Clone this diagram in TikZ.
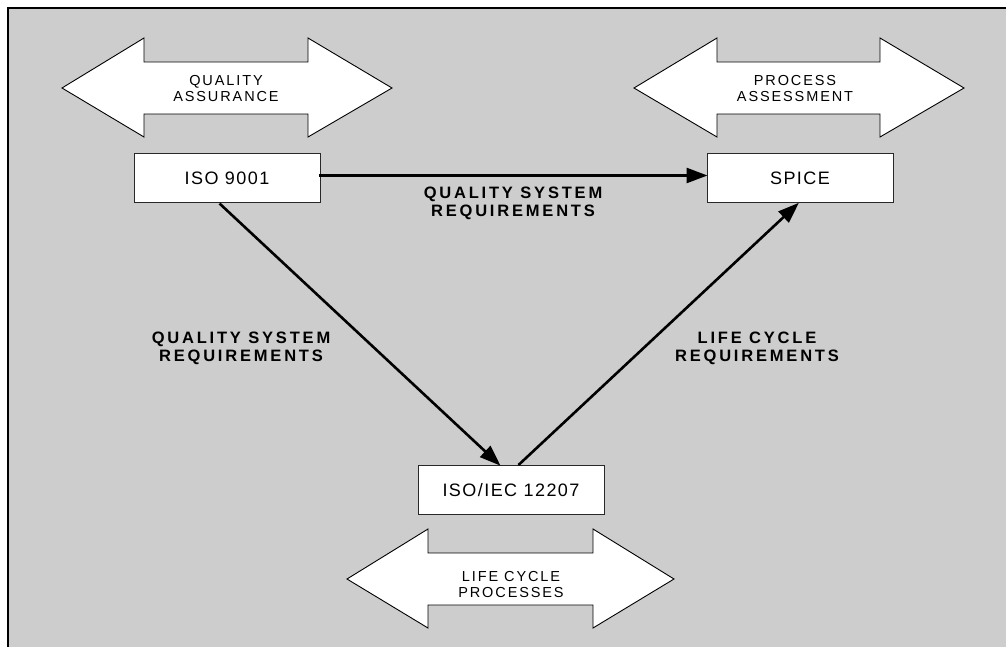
\documentclass[tikz,border=0pt]{standalone}
\usepackage{fontspec}
\setmainfont{Liberation Sans}
\newfontfamily\lblfont[LetterSpace=13]{Liberation Sans}
\newfontfamily\boxfont[LetterSpace=8]{Liberation Sans}
\newfontfamily\reqfont[LetterSpace=17]{Liberation Sans}
\usetikzlibrary{arrows.meta,calc}
\definecolor{bggray}{RGB}{205,205,205}
\definecolor{boxline}{RGB}{40,40,40}
\newcommand\dblarr[5]{%
  \draw[dblarrow] (#1,#5) -- (#2,#5-50) -- (#2,#5-26) -- (#3,#5-26) -- (#3,#5-50) -- (#4,#5)
    -- (#3,#5+49) -- (#3,#5+26) -- (#2,#5+26) -- (#2,#5+49) -- cycle;}
\tikzset{
  dblarrow/.style={draw=black, line width=0.9pt, fill=white, line join=miter},
  stdbox/.style={draw=boxline, line width=1pt, fill=white, minimum width=186pt, minimum height=49pt, inner sep=0pt, font=\boxfont\fontsize{18}{20}\selectfont},
  arrlabel/.style={align=center, inner sep=0pt, font=\lblfont\fontsize{14.5}{16}\selectfont},
  reqlabel/.style={align=center, inner sep=0pt, font=\reqfont\bfseries\fontsize{16.5}{18.5}\selectfont},
  conn/.style={line width=2.6pt, -{Triangle[length=21pt,width=15pt]}, shorten >=-1pt}
}
\begin{document}
\begin{tikzpicture}[x=1pt,y=-1pt]
\useasboundingbox (0,0) rectangle (1006,647);
\fill[bggray] (8,8) rectangle (1006,647);
\draw[line width=1.6pt] (8,647) -- (8,8) -- (1006,8);

% double arrows
\dblarr{62}{144}{308}{392}{88}
\node[arrlabel] (qa) at (226,88.5) {QUALITY\\ASSURANCE};
\dblarr{634}{717}{880}{964}{88}
\node[arrlabel] (pa) at (795,88.5) {PROCESS\\ASSESSMENT};
\dblarr{347}{428}{593}{674}{579}
\node[arrlabel] (lcp) at (511,584.5) {LIFE CYCLE\\PROCESSES};

% boxes
\node[stdbox] (iso) at (227,178.5) {ISO 9001};
\node[stdbox] (spice) at (800,178.5) {SPICE};
\node[stdbox] (iec) at (511,490) {ISO/IEC 12207};

% connectors
\coordinate (isoR) at ($(iso.east)+(-2,-3)$);
\coordinate (spiceL) at ($(spice.west)+(0,-3)$);
\draw[conn] (isoR) -- (spiceL);
\coordinate (isoB) at ($(iso.south west)!0.46!(iso.south east)$);
\coordinate (iecT1) at ($(iec.north west)!0.44!(iec.north east)$);
\draw[conn] (isoB) -- (iecT1);
\coordinate (iecT2) at ($(iec.north west)!0.54!(iec.north east)$);
\coordinate (spiceB) at ($(spice.south west)!0.49!(spice.south east)$);
\draw[conn] (iecT2) -- (spiceB);

% labels
\node[reqlabel] (l1) at (513,203.5) {QUALITY SYSTEM\\REQUIREMENTS};
\node[reqlabel] (l2) at (241,348.5) {QUALITY SYSTEM\\REQUIREMENTS};
\node[reqlabel] (l3) at (757,348.5) {LIFE CYCLE\\REQUIREMENTS};
\end{tikzpicture}
\end{document}
